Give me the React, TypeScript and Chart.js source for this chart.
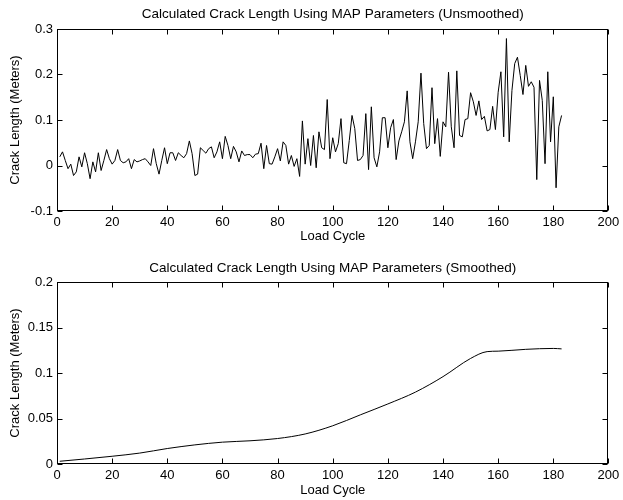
import React, { useEffect, useRef } from "react";
import { Chart, registerables } from "chart.js";

Chart.register(...registerables);

// Unsmoothed crack length (meters), load cycles 1..183
const rawCrack: number[] = [
  0.019, 0.030, 0.011, -0.007, 0.003, -0.022, -0.014, 0.019, -0.003, 0.028,
  0.004, -0.029, 0.008, -0.014, 0.028, -0.011, 0.011, 0.035, 0.015, 0.003,
  0.011, 0.035, 0.011, 0.006, 0.008, 0.015, -0.007, 0.013, 0.008, 0.010,
  0.013, 0.015, 0.008, 0.000, 0.037, 0.004, -0.019, 0.011, 0.039, 0.004,
  0.028, 0.028, 0.011, 0.028, 0.022, 0.017, 0.026, 0.054, 0.026, -0.022,
  -0.019, 0.039, 0.033, 0.027, 0.037, 0.041, 0.017, 0.030, 0.052, 0.015,
  0.064, 0.044, 0.015, 0.042, 0.030, 0.008, 0.032, 0.022, 0.024, 0.024,
  0.017, 0.025, 0.026, 0.049, -0.007, 0.044, 0.004, 0.003, 0.019, 0.037,
  0.010, 0.052, 0.044, 0.003, 0.022, -0.002, 0.015, -0.024, 0.098, 0.003,
  0.059, 0.000, 0.066, -0.005, 0.074, 0.039, 0.035, 0.145, 0.015, 0.061,
  0.030, 0.048, 0.103, 0.006, 0.004, 0.055, 0.110, 0.081, 0.011, 0.013,
  0.022, 0.114, -0.009, 0.129, 0.017, -0.003, 0.030, 0.105, 0.105, 0.039,
  0.083, 0.101, 0.013, 0.054, 0.074, 0.096, 0.164, 0.052, 0.015, 0.052,
  0.096, 0.203, 0.092, 0.037, 0.044, 0.171, 0.048, 0.103, 0.020, 0.096,
  0.085, 0.205, 0.085, 0.039, 0.208, 0.066, 0.063, 0.101, 0.103, 0.160,
  0.140, 0.110, 0.142, 0.101, 0.108, 0.076, 0.079, 0.130, 0.079, 0.161,
  0.206, 0.063, 0.279, 0.052, 0.165, 0.224, 0.238, 0.198, 0.156, 0.220,
  0.174, 0.184, 0.172, -0.031, 0.187, 0.143, 0.004, 0.206, 0.052, 0.151,
  -0.049, 0.085, 0.110,
];

// Smoothed crack length (meters), read at selected load cycles
const smoothCycles: number[] = [1, 10, 20, 30, 40, 50, 60, 70, 80, 90, 100, 110, 120, 130, 140, 150, 156, 160, 170, 180, 183];
const smoothCrack: number[] = [0.003, 0.0055, 0.0085, 0.012, 0.017, 0.021, 0.024, 0.0255, 0.028, 0.033, 0.042, 0.054, 0.066, 0.079, 0.096, 0.116, 0.1235, 0.124, 0.126, 0.127, 0.1265];

const xTicks: number[] = [0, 20, 40, 60, 80, 100, 120, 140, 160, 180, 200];
const yTicksTop: number[] = [-0.1, 0, 0.1, 0.2, 0.3];
const yTicksBottom: number[] = [0, 0.05, 0.1, 0.15, 0.2];

const titleTop = "Calculated Crack Length Using MAP Parameters (Unsmoothed)";
const titleBottom = "Calculated Crack Length Using MAP Parameters (Smoothed)";
const xLabel = "Load Cycle";
const yLabel = "Crack Length (Meters)";

const FONT = "'Liberation Sans', Arial, Helvetica, sans-serif";

const framePlugin = {
  id: "matlabFrame",
  afterDatasetsDraw(chart: any, _args: any, opts: any) {
    const { ctx, chartArea: a, scales } = chart;
    ctx.save();
    ctx.strokeStyle = "#000";
    ctx.lineWidth = 1;
    const L = Math.round(a.left) + 0.5;
    const R = Math.round(a.right) - 0.5;
    const T = Math.round(a.top) + 0.5;
    const B = Math.round(a.bottom) - 0.5;
    ctx.strokeRect(L, T, R - L, B - T);
    const len = 5;
    ctx.beginPath();
    scales.x.ticks.forEach((t: any) => {
      const px = Math.round(scales.x.getPixelForValue(t.value)) + 0.5;
      ctx.moveTo(px, B);
      ctx.lineTo(px, B - len);
      ctx.moveTo(px, T);
      ctx.lineTo(px, T + len);
    });
    scales.y.ticks.forEach((t: any) => {
      const py = Math.round(scales.y.getPixelForValue(t.value)) + 0.5;
      ctx.moveTo(L, py);
      ctx.lineTo(L + len, py);
      ctx.moveTo(R, py);
      ctx.lineTo(R - len, py);
    });
    ctx.stroke();
    // plot title, centred over the plot area
    if (opts && opts.text) {
      ctx.fillStyle = "#000";
      ctx.font = `normal ${opts.size}px ${FONT}`;
      ctx.textAlign = "center";
      ctx.textBaseline = "middle";
      ctx.fillText(opts.text, (a.left + a.right) / 2, opts.y);
    }
    ctx.restore();
  },
};

type PanelProps = {
  points: { x: number; y: number }[];
  title: string;
  titleY: number;
  yMin: number;
  yMax: number;
  yTicks: number[];
  height: number;
  xAxisHeight: number;
  xTitleBottom: number;
  smooth: boolean;
};

function Panel(props: PanelProps) {
  const ref = useRef<HTMLCanvasElement | null>(null);
  useEffect(() => {
    if (!ref.current) return;
    const font = { family: FONT, size: 13, weight: "normal" as const };
    const chart = new Chart(ref.current, {
      type: "line",
      data: {
        datasets: [
          {
            data: props.points,
            borderColor: "#000",
            borderWidth: 1,
            pointRadius: 0,
            fill: false,
            tension: 0,
            cubicInterpolationMode: props.smooth ? "monotone" : "default",
          } as any,
        ],
      },
      options: {
        animation: false,
        responsive: false,
        devicePixelRatio: 1,
        parsing: false as any,
        layout: { padding: { left: 0, right: 13, top: 29, bottom: 0 } },
        plugins: {
          legend: { display: false },
          tooltip: { enabled: false },
          title: { display: false },
          matlabFrame: { text: props.title, y: props.titleY, size: 13.5 },
        },
        scales: {
          x: {
            type: "linear",
            min: 0,
            max: 200,
            afterBuildTicks: (s: any) => {
              s.ticks = xTicks.map((v) => ({ value: v }));
            },
            afterFit: (s: any) => {
              s.height = props.xAxisHeight;
            },
            grid: { display: false, drawTicks: false },
            border: { display: false },
            ticks: {
              padding: 3.7,
              color: "#000",
              font,
              maxRotation: 0,
              autoSkip: false,
              callback: (v: any) => String(v),
            },
            title: {
              display: true,
              text: xLabel,
              color: "#000",
              font,
              padding: { top: 0, bottom: props.xTitleBottom },
            },
          },
          y: {
            type: "linear",
            min: props.yMin,
            max: props.yMax,
            afterBuildTicks: (s: any) => {
              s.ticks = props.yTicks.map((v) => ({ value: v }));
            },
            afterFit: (s: any) => {
              s.width = 57;
            },
            grid: { display: false, drawTicks: false },
            border: { display: false },
            ticks: {
              padding: 4,
              color: "#000",
              font,
              autoSkip: false,
              callback: (v: any) => String(v),
            },
            title: {
              display: true,
              text: yLabel,
              color: "#000",
              font,
              padding: { top: 7.2, bottom: 0 },
            },
          },
        },
      } as any,
      plugins: [framePlugin],
    });
    return () => chart.destroy();
  }, []);
  return <canvas ref={ref} width={623} height={props.height} style={{ display: "block", width: 623, height: props.height }} />;
}

export default function App() {
  const rawPoints = rawCrack.map((v, i) => ({ x: i + 1, y: v }));
  const smoothPoints = smoothCycles.map((c, i) => ({ x: c, y: smoothCrack[i] }));
  return (
    <div style={{ position: "absolute", left: 0, top: 0, width: 623, height: 500, background: "#fff" }}>
      <div style={{ position: "absolute", left: 0, top: 0 }}>
        <Panel points={rawPoints} title={titleTop} titleY={14} yMin={-0.1} yMax={0.3} yTicks={yTicksTop} height={250} xAxisHeight={39} xTitleBottom={5.4} smooth={false} />
      </div>
      <div style={{ position: "absolute", left: 0, top: 253 }}>
        <Panel points={smoothPoints} title={titleBottom} titleY={15} yMin={0} yMax={0.2} yTicks={yTicksBottom} height={247} xAxisHeight={36} xTitleBottom={2.2} smooth={true} />
      </div>
    </div>
  );
}
